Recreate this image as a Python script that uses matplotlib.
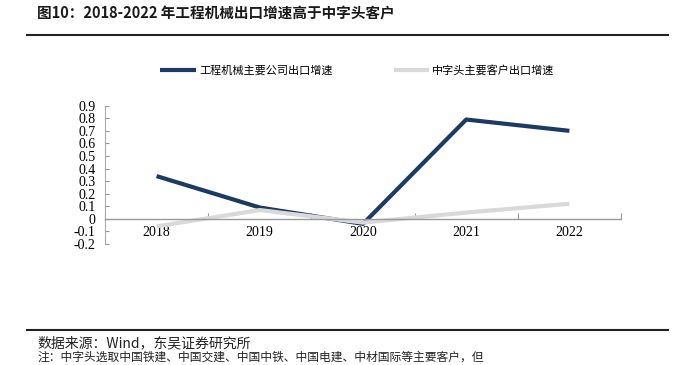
import matplotlib
matplotlib.use("Agg")
import matplotlib.pyplot as plt
from matplotlib.lines import Line2D

years = ["2018", "2019", "2020", "2021", "2022"]
machinery_growth = [0.34, 0.09, -0.04, 0.79, 0.70]
customer_growth = [-0.06, 0.07, -0.03, 0.05, 0.12]
yticks = [-0.2, -0.1, 0, 0.1, 0.2, 0.3, 0.4, 0.5, 0.6, 0.7, 0.8, 0.9]
ytick_labels = ["-0.2", "-0.1", "0", "0.1", "0.2", "0.3", "0.4", "0.5", "0.6", "0.7", "0.8", "0.9"]

title = "图10：2018-2022 年工程机械出口增速高于中字头客户"
legend_labels = ["工程机械主要公司出口增速", "中字头主要客户出口增速"]
source = "数据来源：Wind，东吴证券研究所"
note = "注：中字头选取中国铁建、中国交建、中国中铁、中国电建、中材国际等主要客户，但"

plt.rcParams["font.family"] = ["Liberation Serif", "DejaVu Serif"]
cjk = ["Noto Sans CJK SC", "DejaVu Sans"]

fig = plt.figure(figsize=(6.8, 3.65), dpi=100)
W, H = 680, 365

def fx(px):
    return px / W

def fy(py):
    return 1 - py / H

# title
fig.text(fx(37), fy(13), title, family=cjk, fontsize=10.5, fontweight="bold",
         va="center", ha="left", color="#1a1a1a")
fig.add_artist(Line2D([fx(27), fx(668)], [fy(35), fy(35)], color="#222222", lw=1.5))

# bottom source line
fig.add_artist(Line2D([fx(27), fx(668)], [fy(330), fy(330)], color="#222222", lw=1.5))
fig.text(fx(37), fy(343), source, family=cjk, fontsize=10, va="center", ha="left",
         color="#222222")
fig.text(fx(37), fy(357.5), note, family=cjk, fontsize=8.5, va="center", ha="left",
         color="#222222")

ax = fig.add_axes([fx(105), fy(244), fx(621) - fx(105), fy(105.7) - fy(244)])
x = list(range(len(years)))
ln1, = ax.plot(x, machinery_growth, color="#1c3a63", lw=3.0, solid_capstyle="butt")
ln2, = ax.plot(x, customer_growth, color="#d9d9d9", lw=3.0, solid_capstyle="butt")

ax.set_xlim(-0.5, 4.5)
ax.set_ylim(-0.2, 0.9)
ax.set_yticks(yticks)
ax.set_yticklabels(ytick_labels, fontsize=10)
ax.set_xticks([i - 0.5 for i in range(len(years) + 1)], minor=False)
ax.set_xticklabels([""] * (len(years) + 1))
ax.set_xticks(x, minor=True)
ax.set_xticklabels(years, minor=True, fontsize=10)
ax.tick_params(axis="x", which="major", direction="in", length=4, color="#999999", width=0.8)
ax.tick_params(axis="x", which="minor", length=0, pad=5)
ax.tick_params(axis="y", direction="in", length=3, color="#999999", width=0.8, pad=7)

for s in ["top", "right"]:
    ax.spines[s].set_visible(False)
ax.spines["bottom"].set_position(("data", 0))
ax.spines["bottom"].set_color("#999999")
ax.spines["left"].set_color("#aaaaaa")
ax.spines["left"].set_linewidth(0.8)
ax.spines["bottom"].set_linewidth(1.0)

# legend
leg = fig.legend([ln1, ln2], legend_labels, loc="center left",
                 bbox_to_anchor=(fx(150), fy(70)), ncol=2, frameon=False,
                 prop={"family": cjk, "size": 8}, handlelength=3.2,
                 columnspacing=5.5, handletextpad=0.3)

fig.savefig("out.png", dpi=100)
